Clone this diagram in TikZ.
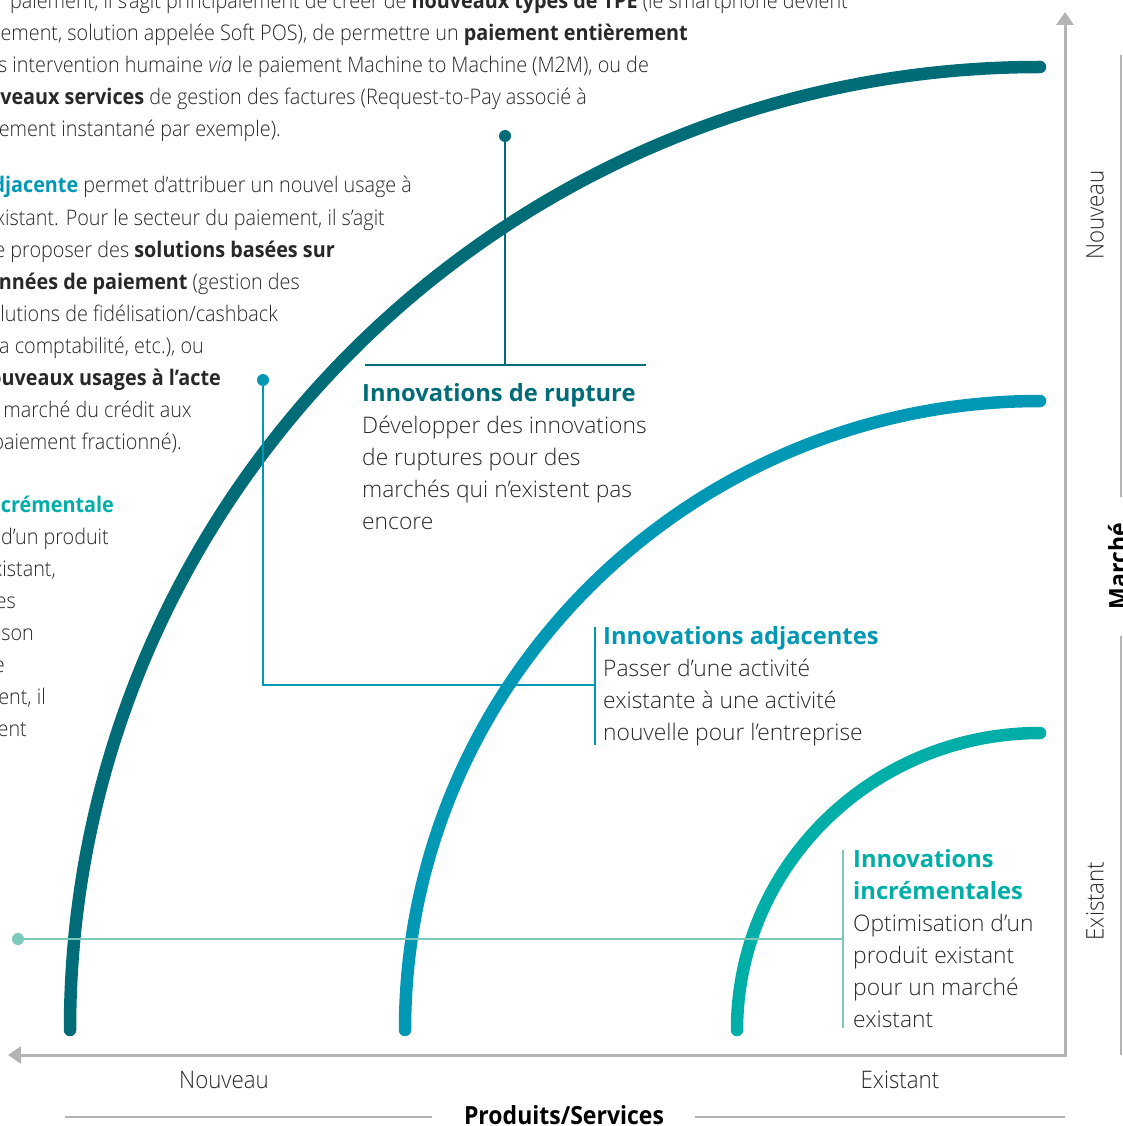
\documentclass[tikz,border=0pt]{standalone}
\usepackage{fontspec}
\setmainfont{Open Sans}[UprightFont=* Light,BoldFont=* Bold,ItalicFont=* Light Italic]
\newfontfamily\narrowfont{Open Sans}[UprightFont=* Light,BoldFont=* Bold,ItalicFont=* Light Italic,FakeStretch=0.92]
\usetikzlibrary{arrows.meta}

\definecolor{rupt}{RGB}{0,108,119}
\definecolor{adj}{RGB}{0,152,181}
\definecolor{incr}{RGB}{0,174,168}
\definecolor{incrlight}{RGB}{122,201,187}
\definecolor{axisgray}{RGB}{180,180,180}
\definecolor{textgray}{RGB}{40,40,40}

\newcommand\headfont{\bfseries\fontsize{23.7}{32}\selectfont}

\begin{document}
\begin{tikzpicture}[x=1pt,y=-1pt,
    curve/.style={line width=12.5pt,line cap=round},
    leader/.style={line width=1.1pt},
    dot/.style={circle,inner sep=0pt,minimum size=12pt},
    body/.style={anchor=base west,align=left,inner sep=0pt,text=textgray,
      font=\fontsize{22.8}{32}\selectfont},
    side/.style={anchor=base east,inner sep=0pt,text=textgray,
      font=\narrowfont\fontsize{21.5}{32}\selectfont},
    axislabel/.style={text=textgray,font=\narrowfont\fontsize{24.2}{30}\selectfont},
    axistitle/.style={text=black,font=\narrowfont\bfseries\fontsize{25}{30}\selectfont},
    sep/.style={axisgray,line width=1.3pt}]

\useasboundingbox (0,0) rectangle (1123,1126);
\clip (0,0) rectangle (1123,1126);

% paragraphs running in from the left margin
\foreach \y/\x/\t in {
    9/848/{paiement, il s’agit principalement de créer de \textbf{nouveaux types de TPE} (le smartphone devient},
    41/688/{paiement, solution appelée Soft POS), de permettre un \textbf{paiement entièrement}},
    73/649/{sans intervention humaine \emph{via} le paiement Machine to Machine (M2M), ou de},
    105/587/{\textbf{nouveaux services} de gestion des factures (Request-to-Pay associé à},
    137/281/{paiement instantané par exemple).},
    193/412/{\textcolor{adj}{\bfseries adjacente} permet d’attribuer un nouvel usage à},
    225/385/{existant. Pour le secteur du paiement, il s’agit},
    257/335/{de proposer des \textbf{solutions basées sur}},
    289/300/{\textbf{données de paiement} (gestion des},
    321/278/{solutions de fidélisation/cashback},
    353/204/{la comptabilité, etc.), ou},
    385/221/{\textbf{nouveaux usages à l’acte}},
    417/192/{au marché du crédit aux},
    449/182/{paiement fractionné).},
    512/114/{\textcolor{incr}{\bfseries incrémentale}},
    544/109/{d’un produit},
    576/56/{existant,},
    608/16/{es},
    640/34/{son},
    672/5/{e},
    704/46/{ent, il},
    736/27/{ent}}
  \node[side] (p\y) at (\x,\y) {\t};

% the three innovation curves
\draw[curve,rupt] (70,1030) arc[start angle=180,end angle=270,x radius=970,y radius=963];
\draw[curve,adj] (405,1030) arc[start angle=180,end angle=270,x radius=635,y radius=629];
\draw[curve,incr] (737,1030) arc[start angle=180,end angle=270,x radius=303,y radius=297];

% rupture (node sits on the baseline of its last line)
\node[body] (rupt) at (362,529) {\textcolor{rupt}{\headfont Innovations de rupture}\\
  Développer des innovations\\de ruptures pour des\\marchés qui n'existent pas\\encore};
\node[dot,fill=rupt] (rdot) at (505,136) {};
\coordinate (rknee) at (505,365);
\draw[leader,rupt] (rdot) -- (rknee);
\draw[leader,rupt] (365,365) -- (646,365);

% adjacentes
\node[body] (adjt) at (603,740) {\textcolor{adj}{\headfont Innovations adjacentes}\\
  Passer d’une activité\\existante à une activité\\nouvelle pour l'entreprise};
\node[dot,fill=adj] (adot) at (263,380) {};
\coordinate (aknee) at (595,685);
\draw[leader,adj] (adot) |- (aknee);
\draw[leader,adj] (595,627) -- (595,745);

% incrementales
\node[body] (incrt) at (853,1027) {\textcolor{incr}{\headfont Innovations}\\
  \textcolor{incr}{\headfont incrémentales}\\Optimisation d’un\\produit existant\\pour un marché\\existant};
\node[dot,fill=incrlight] (idot) at (18,939) {};
\coordinate (iknee) at (843,939);
\draw[leader,incrlight] (idot) -- (iknee);
\draw[leader,incrlight] (843,850) -- (843,1028);

% axes
\draw[axisgray,line width=3pt,{Triangle[width=17pt,length=13pt]}-{Triangle[width=17pt,length=13pt]}]
  (8,1055) -- (1065,1055) -- (1065,12);

\node[axislabel] (xnew) at (224,1080) {Nouveau};
\node[axislabel] (xold) at (900,1080) {Existant};
\node[axistitle] (xtitle) at (564,1115) {Produits/Services};
\draw[sep] (65,1117) -- (432,1117);
\draw[sep] (695,1117) -- (1065,1117);

\node[axislabel,rotate=90] (ynew) at (1095,215) {Nouveau};
\node[axislabel,rotate=90] (yold) at (1095,901) {Existant};
\node[axistitle,rotate=90,anchor=base] (ytitle) at (1127,566) {Marché};
\draw[sep] (1121,55) -- (1121,497);
\draw[sep] (1121,636) -- (1121,1055);
\end{tikzpicture}
\end{document}
